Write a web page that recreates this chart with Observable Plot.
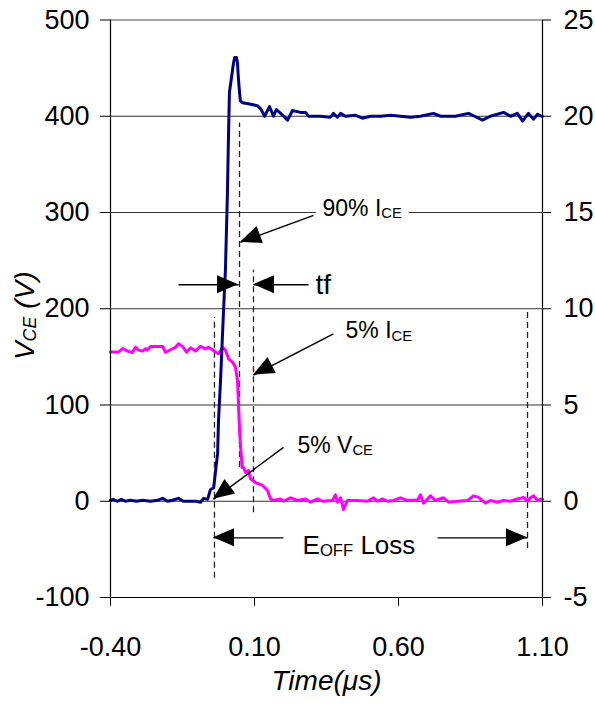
<!DOCTYPE html>
<html><head><meta charset="utf-8">
<script src="https://cdn.jsdelivr.net/npm/d3@7"></script>
<script src="https://cdn.jsdelivr.net/npm/@observablehq/plot@0.6"></script>
<style>html,body{margin:0;padding:0;background:#fff}</style>
</head><body><div id="chart"></div>
<script>
// ---- data (time in µs) ----
const vceSeries = [[-0.4,1],[-0.39,2],[-0.376,0],[-0.362,2],[-0.348,0],[-0.331,1],[-0.31,0],[-0.289,1],[-0.261,0],[-0.237,1],[-0.219,3],[-0.202,0],[-0.185,1],[-0.164,3],[-0.147,0],[-0.122,0],[-0.101,0],[-0.0875,-1],[-0.077,3],[-0.063,2],[-0.053,12],[-0.042,14],[-0.039,21],[-0.035,32],[-0.028,50],[-0.025,84],[-0.018,125],[-0.008,195],[-0.001,240],[0.006,320],[0.0097,380],[0.013,425],[0.02,440],[0.027,455],[0.031,461],[0.0375,461],[0.041,455],[0.044,440],[0.048,425],[0.051,416],[0.058,414],[0.079,413],[0.11,411],[0.121,408],[0.135,400],[0.152,410],[0.166,400],[0.176,407],[0.187,404],[0.215,396],[0.232,406],[0.26,404],[0.277,404],[0.288,400],[0.329,400],[0.364,399],[0.374,403],[0.388,399],[0.399,403],[0.416,400],[0.451,401],[0.475,398],[0.503,400],[0.538,400],[0.572,401],[0.607,400],[0.642,399],[0.676,400],[0.7215,403],[0.746,400],[0.798,400],[0.843,403],[0.864,400],[0.892,396],[0.919,400],[0.965,404],[0.989,400],[1.013,403],[1.031,395],[1.051,403],[1.069,397],[1.083,402],[1.097,400],[1.1,400]];
const iceSeries = [[-0.4,7.75],[-0.372,7.75],[-0.358,7.93],[-0.341,7.8],[-0.324,7.73],[-0.313,8.0],[-0.303,7.85],[-0.289,7.8],[-0.278,7.93],[-0.272,7.85],[-0.261,8.04],[-0.219,8.04],[-0.209,7.74],[-0.192,7.87],[-0.174,8.0],[-0.164,8.18],[-0.15,8.04],[-0.136,7.74],[-0.122,7.97],[-0.105,7.8],[-0.0875,8.04],[-0.07,7.92],[-0.06,8.0],[-0.046,7.87],[-0.035,7.74],[-0.025,7.66],[-0.011,8.0],[-0.001,7.85],[0.01,7.4],[0.024,7.22],[0.034,6.96],[0.041,6.27],[0.048,3.68],[0.057,1.75],[0.062,1.75],[0.069,1.5],[0.079,1.6],[0.086,1.18],[0.103,0.97],[0.128,0.82],[0.145,0.56],[0.156,0.12],[0.166,0.04],[0.19,0.12],[0.201,0.0],[0.225,0.18],[0.249,0.04],[0.277,0.12],[0.294,-0.05],[0.319,0.12],[0.336,0.0],[0.371,0.04],[0.381,0.33],[0.388,-0.05],[0.399,0.18],[0.409,-0.43],[0.423,0.04],[0.458,0.04],[0.492,0.0],[0.513,0.18],[0.527,0.0],[0.544,0.12],[0.562,0.0],[0.583,0.04],[0.607,0.18],[0.63,0.05],[0.666,0.06],[0.676,0.33],[0.687,-0.1],[0.711,0.28],[0.728,0.04],[0.756,0.18],[0.774,-0.05],[0.805,0.0],[0.84,0.04],[0.86,0.28],[0.878,0.2],[0.902,-0.1],[0.919,0.04],[0.944,-0.05],[0.965,0.04],[0.989,0.0],[1.013,0.12],[1.034,0.2],[1.048,0.0],[1.058,0.18],[1.069,0.28],[1.083,0.04],[1.097,0.12],[1.1,0.1]];
const leftTicks = [-100, 0, 100, 200, 300, 400, 500];
const voltsPerAmp = 20; // right axis (A) = left axis (V) / 20
const xTicks = [-0.4, 0.1, 0.6, 1.1];

// ---- annotations ----
const guideTime = [0.048, 0.0965, -0.039, 1.048];
const guideTop = [393, 240, 191, 198];
const guideBottom = [35, -12, -80, -49];
const arrowStart = [[0.305,297],[-0.164,225],[0.2875,225],[0.374,174],[0.2007,56],[0.2007,-38],[0.7354,-38]];
const arrowEnd = [[0.0514,269],[0.0444,225],[0.0965,225],[0.0965,131],[-0.0424,2],[-0.0424,-38],[1.048,-38]];
const labelMain = ["90% I", "tf", "5% I", "5% V", "E"];
const labelSub = ["CE", "", "CE", "CE", "OFF"];
const labelTail = ["", "", "", "", " Loss"];
const labelAt = [[0.336,304],[0.312,225],[0.416,177],[0.249,58],[0.267,-46]];
const labelSize = [23, 28, 23, 23, 26];

const labels = labelMain.map((m, i) => ({t: labelAt[i][0], v: labelAt[i][1], text: m + labelSub[i] + labelTail[i], size: labelSize[i], i}));
const guides = guideTime.map((t, i) => ({t, top: guideTop[i], bottom: guideBottom[i]}));
const arrows = arrowStart.map((s, i) => ({t1: s[0], v1: s[1], t2: arrowEnd[i][0], v2: arrowEnd[i][1]}));
const vce = vceSeries.map(([t, v]) => ({t, v}));
const ice = iceSeries.map(([t, a]) => ({t, a}));

const font = "'Liberation Sans', Arial, Helvetica, sans-serif";

const plot = Plot.plot({
  width: 595, height: 706,
  marginLeft: 110, marginRight: 53, marginTop: 19.5, marginBottom: 109,
  style: {fontFamily: font, background: "#fff", color: "#000"},
  x: {domain: [-0.4, 1.1]},
  y: {domain: [-100, 500]},
  marks: [
    Plot.ruleY(leftTicks.filter(d => d > -100 && d < 500), {stroke: "#333", strokeWidth: 1}),
    Plot.ruleY([500], {stroke: "#888", strokeWidth: 1.6}),
    // white knockout behind the label that sits on a gridline
    Plot.text(labels.filter(d => d.i === 0), {x: "t", y: "v", text: "text", fontSize: "size", textAnchor: "start", fill: "#fff", stroke: "#fff", strokeWidth: 16}),
    Plot.ruleX(guides, {x: "t", y1: "bottom", y2: "top", stroke: "#222", strokeWidth: 1.3, strokeDasharray: "6,4"}),
    Plot.line(ice, {x: "t", y: d => d.a * voltsPerAmp, stroke: "#ff00ff", strokeWidth: 3, strokeLinejoin: "round"}),
    Plot.line(vce, {x: "t", y: "v", stroke: "#000080", strokeWidth: 3, strokeLinejoin: "round"}),
    Plot.link(arrows, {x1: "t1", y1: "v1", x2: "t2", y2: "v2", stroke: "#000", strokeWidth: 1.4}),
    Plot.text(labels, {x: "t", y: "v", text: "text", fontSize: "size", textAnchor: "start", fill: "#000"}),
    Plot.ruleX([-0.4, 1.1], {stroke: "#000", strokeWidth: 1.2}),
    Plot.ruleY([-100], {stroke: "#000", strokeWidth: 1.2}),
    Plot.axisY({anchor: "left", ticks: leftTicks, tickFormat: d => String(d), tickSize: 10, tickPadding: 11, fontSize: 27, label: null}),
    Plot.axisY({anchor: "right", ticks: leftTicks, tickFormat: d => String(d / voltsPerAmp), tickSize: 8, tickPadding: 13, fontSize: 27, label: null}),
    Plot.axisX({ticks: xTicks, tickFormat: d => d.toFixed(2), tickSize: 9, tickPadding: 30, fontSize: 27, label: null}),
    Plot.text(["VCE (V)"], {frameAnchor: "left", dx: -77, dy: 7, rotate: -90, textAnchor: "middle", lineAnchor: "bottom", fontSize: 28, fontStyle: "italic", fill: "#000"}),
    Plot.text(["Time(μs)"], {frameAnchor: "bottom", dy: 84, lineAnchor: "middle", textAnchor: "middle", fontSize: 28, fontStyle: "italic", fill: "#000"})
  ]
});

// rich text: subscripts
const rich = new Map(labels.map(d => [d.text, [labelMain[d.i], labelSub[d.i], labelTail[d.i], d.size]]));
rich.set("VCE (V)", ["V", "CE", " (V)", 28]);
d3.select(plot).selectAll("text").each(function() {
  const key = this.textContent;
  if (!rich.has(key)) return;
  const [a, b, c, size] = rich.get(key);
  const s = d3.select(this);
  s.text(null);
  s.append("tspan").text(a);
  if (b) s.append("tspan").attr("font-size", size * 0.64).attr("dy", size * 0.1).text(b);
  if (c) s.append("tspan").attr("dy", -size * 0.1).text(c);
});

// filled arrow heads, positioned through the plot's scales
const sx = plot.scale("x"), sy = plot.scale("y");
const headLen = 21, headWidth = 18;
const heads = d3.select(plot).append("g").attr("aria-label", "arrow heads");
arrows.forEach(d => {
  const x1 = sx.apply(d.t1), y1 = sy.apply(d.v1), x2 = sx.apply(d.t2), y2 = sy.apply(d.v2);
  const len = Math.hypot(x2 - x1, y2 - y1), ux = (x2 - x1) / len, uy = (y2 - y1) / len;
  const bx = x2 - ux * headLen, by = y2 - uy * headLen, nx = -uy * headWidth / 2, ny = ux * headWidth / 2;
  heads.append("path").attr("d", `M${x2},${y2}L${bx + nx},${by + ny}L${bx - nx},${by - ny}Z`).attr("fill", "#000");
});

document.getElementById("chart").appendChild(plot);
</script>
</body></html>
